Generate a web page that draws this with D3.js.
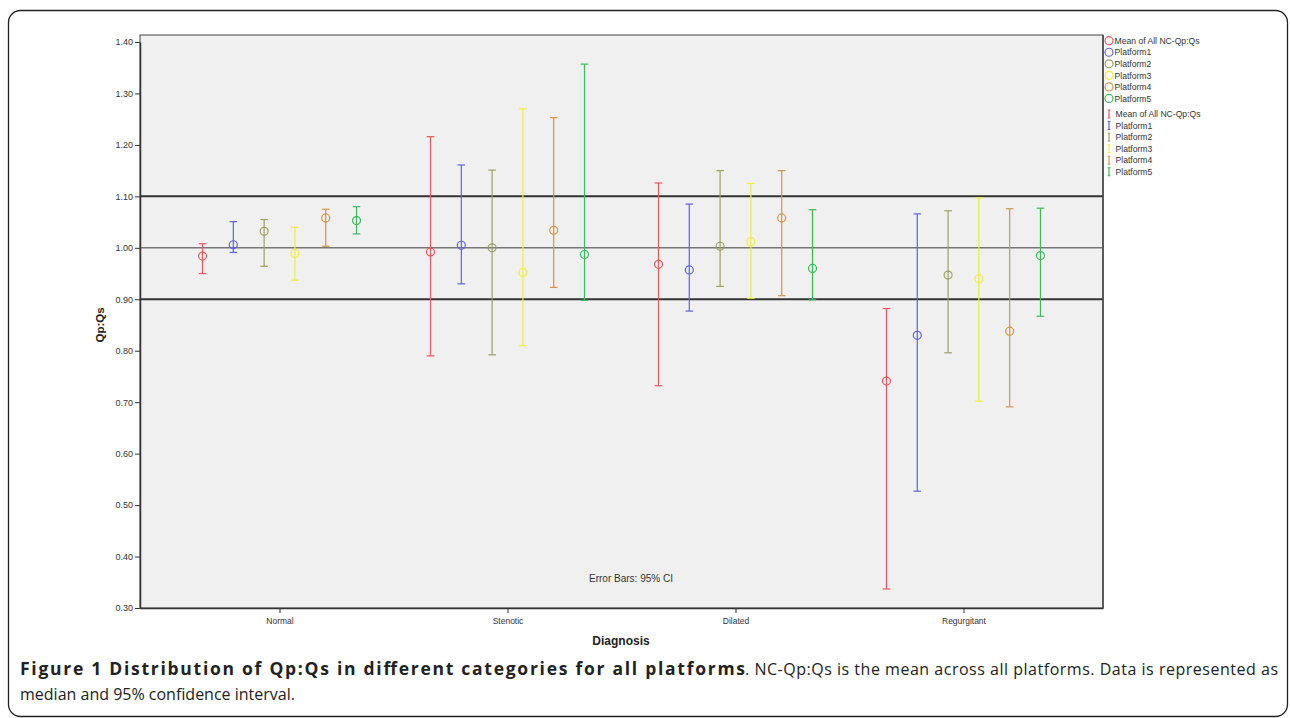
<!DOCTYPE html>
<html><head><meta charset="utf-8">
<script src="https://cdn.jsdelivr.net/npm/d3@7"></script>
<style>
html,body{margin:0;padding:0;background:#fff;}
svg{display:block;}
</style></head>
<body>
<svg id="chart" width="1290" height="718"></svg>
<script>
// ---- data ----
const categories = ["Normal", "Stenotic", "Dilated", "Regurgitant"];
const seriesNames = ["Mean of All NC-Qp:Qs", "Platform1", "Platform2", "Platform3", "Platform4", "Platform5"];
// [lower, median, upper] per category
const meanAllNC = [[0.950, 0.984, 1.008], [0.790, 0.992, 1.216], [0.732, 0.968, 1.126], [0.337, 0.741, 0.882]];
const platform1 = [[0.991, 1.006, 1.051], [0.930, 1.005, 1.161], [0.877, 0.957, 1.085], [0.527, 0.830, 1.066]];
const platform2 = [[0.964, 1.032, 1.055], [0.792, 1.000, 1.151], [0.925, 1.003, 1.150], [0.796, 0.947, 1.072]];
const platform3 = [[0.937, 0.989, 1.040], [0.810, 0.952, 1.270], [0.902, 1.012, 1.125], [0.702, 0.940, 1.097]];
const platform4 = [[1.003, 1.058, 1.075], [0.923, 1.034, 1.253], [0.907, 1.058, 1.150], [0.691, 0.838, 1.076]];
const platform5 = [[1.027, 1.053, 1.080], [0.898, 0.987, 1.357], [0.899, 0.960, 1.074], [0.867, 0.985, 1.077]];
const yTicks = [0.30, 0.40, 0.50, 0.60, 0.70, 0.80, 0.90, 1.00, 1.10, 1.20, 1.30, 1.40];
const refLines = [0.90, 1.00, 1.10];

const seriesData = [meanAllNC, platform1, platform2, platform3, platform4, platform5];
const colors = ["#f0545c", "#6060f0", "#a0a060", "#f2ec3a", "#dc9240", "#3cba58"];

// ---- layout ----
const svg = d3.select("#chart");
const L = 140, R = 1103, T = 35, B = 608;
const font = "'Liberation Sans', Arial, sans-serif";

// outer frame
svg.append("rect").attr("x", 8.5).attr("y", 10.5).attr("width", 1279).attr("height", 706)
  .attr("rx", 12).attr("fill", "none").attr("stroke", "#222").attr("stroke-width", 1.3);

const x = d3.scalePoint().domain(categories).range([L, R]).padding(0.612);
const inner = d3.scalePoint().domain(seriesNames).range([-77, 77]);
const y = d3.scaleLinear().domain([0.30, 1.40]).range([B, 42]);

// plot background
svg.append("rect").attr("x", L).attr("y", T).attr("width", R - L).attr("height", B - T)
  .attr("fill", "#f0f0f0").attr("stroke", "#444").attr("stroke-width", 1);

// reference lines
svg.append("g").selectAll("line").data(refLines).join("line")
  .attr("x1", L).attr("x2", R)
  .attr("y1", d => y(d)).attr("y2", d => y(d))
  .attr("stroke", d => d === 1.00 ? "#777" : "#333")
  .attr("stroke-width", d => d === 1.00 ? 1.4 : 2);

// y axis
const yAxis = svg.append("g").attr("transform", `translate(${L},0)`)
  .call(d3.axisLeft(y).tickValues(yTicks).tickFormat(d3.format(".2f")).tickSize(5).tickSizeOuter(0));
yAxis.select(".domain").attr("stroke", "#333").attr("stroke-width", 1.5);
yAxis.selectAll(".tick line").attr("stroke", "#333");
yAxis.selectAll(".tick text").attr("font-family", font).attr("font-size", 9).attr("fill", "#333").attr("dx", 1);

// x axis
const xAxis = svg.append("g").attr("transform", `translate(0,${B})`)
  .call(d3.axisBottom(x).tickSize(5).tickSizeOuter(0));
xAxis.select(".domain").attr("stroke", "#333").attr("stroke-width", 1.5);
xAxis.selectAll(".tick line").attr("stroke", "#333");
xAxis.selectAll(".tick text").attr("font-family", font).attr("font-size", 8.5).attr("fill", "#333").attr("dy", "0.9em");

// right border
svg.append("line").attr("x1", R).attr("x2", R).attr("y1", T).attr("y2", B).attr("stroke", "#444").attr("stroke-width", 1.5);

// axis titles
svg.append("text").attr("transform", `translate(104,${(y(0.85))}) rotate(-90)`)
  .attr("text-anchor", "middle").attr("font-family", font).attr("font-weight", "bold").attr("font-size", 11.5)
  .attr("fill", "#222").text("Qp:Qs");
svg.append("text").attr("x", 621).attr("y", 645).attr("text-anchor", "middle")
  .attr("font-family", font).attr("font-weight", "bold").attr("font-size", 12).attr("fill", "#222").text("Diagnosis");
svg.append("text").attr("x", 631).attr("y", 582).attr("text-anchor", "middle")
  .attr("font-family", font).attr("font-size", 10).attr("fill", "#333").text("Error Bars: 95% CI");

// error bars + points
const cap = 3.8;
seriesData.forEach((series, si) => {
  const g = svg.append("g").attr("stroke", colors[si]).attr("fill", "none").attr("stroke-width", 1.2);
  series.forEach((v, ci) => {
    const cx = x(categories[ci]) + inner(seriesNames[si]);
    g.append("line").attr("x1", cx).attr("x2", cx).attr("y1", y(v[0])).attr("y2", y(v[2]));
    g.append("line").attr("x1", cx - cap).attr("x2", cx + cap).attr("y1", y(v[0])).attr("y2", y(v[0]));
    g.append("line").attr("x1", cx - cap).attr("x2", cx + cap).attr("y1", y(v[2])).attr("y2", y(v[2]));
    g.append("circle").attr("cx", cx).attr("cy", y(v[1])).attr("r", 4);
  });
});

// legend
const lg = svg.append("g");
seriesNames.forEach((name, i) => {
  const yy = 40.7 + i * 11.55;
  lg.append("circle").attr("cx", 1109).attr("cy", yy).attr("r", 4).attr("fill", "none")
    .attr("stroke", colors[i]).attr("stroke-width", 1.2);
  lg.append("text").attr("x", 1114.5).attr("y", yy + 3.2).attr("font-family", font).attr("font-size", 8.6)
    .attr("fill", "#333").text(name);
  const yb = 114 + i * 11.55;
  lg.append("line").attr("x1", 1109).attr("x2", 1109).attr("y1", yb - 4).attr("y2", yb + 4)
    .attr("stroke", colors[i]).attr("stroke-width", 1.2);
  lg.append("line").attr("x1", 1107.5).attr("x2", 1110.5).attr("y1", yb - 4).attr("y2", yb - 4)
    .attr("stroke", colors[i]).attr("stroke-width", 1);
  lg.append("line").attr("x1", 1107.5).attr("x2", 1110.5).attr("y1", yb + 4).attr("y2", yb + 4)
    .attr("stroke", colors[i]).attr("stroke-width", 1);
  lg.append("text").attr("x", 1115.5).attr("y", yb + 3.2).attr("font-family", font).attr("font-size", 8.6)
    .attr("fill", "#333").text(name);
});

// caption
const capFont = "'Open Sans', 'Noto Sans', sans-serif";
svg.append("text").attr("x", 20).attr("y", 675).attr("font-family", capFont).attr("font-size", 17.5)
  .attr("font-weight", "bold").attr("fill", "#222").attr("textLength", 725).attr("lengthAdjust", "spacing")
  .text("Figure 1 Distribution of Qp:Qs in different categories for all platforms");
svg.append("text").attr("x", 745).attr("y", 675).attr("font-family", capFont).attr("font-size", 16)
  .attr("fill", "#222").attr("textLength", 533).attr("lengthAdjust", "spacing")
  .text(". NC-Qp:Qs is the mean across all platforms. Data is represented as");
svg.append("text").attr("x", 20).attr("y", 700).attr("font-family", capFont).attr("font-size", 16)
  .attr("fill", "#222").text("median and 95% confidence interval.");
</script>
</body></html>
